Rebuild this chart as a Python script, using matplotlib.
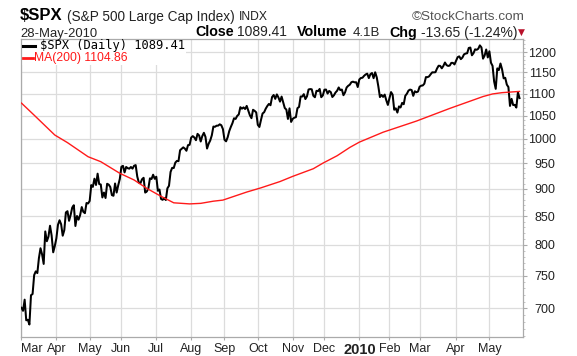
import matplotlib
matplotlib.use("Agg")
import matplotlib.pyplot as plt
import matplotlib.ticker as mticker
from matplotlib.patches import Rectangle
import numpy as np
import pandas as pd

plt.rcParams['font.family'] = ['Liberation Sans', 'DejaVu Sans']

# ---------------- data ----------------
start_date = "2009-03-02"
end_date = "2010-05-28"
market_holidays = ["2009-04-10", "2009-05-25", "2009-07-03", "2009-09-07",
                   "2009-11-26", "2009-12-25", "2010-01-01", "2010-01-18",
                   "2010-02-15", "2010-04-02"]

spx_close = [
    # Mar 2009
    700.82, 696.33, 712.87, 682.55, 683.38, 676.53, 719.60, 721.36, 750.74, 756.55, 753.89,
    778.12, 794.35, 784.04, 768.54, 822.92, 806.12, 813.88, 832.86, 815.94, 787.53, 797.87,
    # Apr 2009
    811.08, 834.38, 842.50, 835.48, 815.55, 825.16, 856.56, 858.73, 841.50, 852.06, 865.30,
    869.60, 832.39, 850.08, 843.55, 851.92, 866.23, 857.51, 855.16, 873.64, 872.81,
    # May 2009
    877.52, 907.24, 903.80, 919.53, 907.39, 929.23, 909.24, 908.35, 883.92, 893.07,
    882.88, 909.71, 908.13, 903.47, 888.33, 887.00, 910.33, 893.06, 906.83, 919.14,
    # Jun 2009
    942.87, 944.74, 931.76, 942.46, 940.09, 939.14, 942.43, 939.15, 944.89, 946.21, 923.72,
    911.97, 910.71, 918.37, 921.23, 893.04, 895.10, 900.94, 920.26, 918.90, 927.23, 919.32,
    # Jul 2009
    923.33, 896.42, 898.72, 881.03, 879.56, 882.68, 879.13, 901.05, 905.84, 932.68, 940.74,
    940.38, 951.13, 954.58, 954.07, 976.29, 979.26, 982.18, 979.62, 975.15, 986.75, 987.48,
    # Aug 2009
    1002.63, 1005.65, 1002.72, 997.08, 1010.48, 1007.10, 994.35, 1005.81, 1012.73, 1004.09,
    979.73, 989.67, 996.46, 1007.37, 1026.13, 1025.57, 1028.00, 1028.12, 1030.98, 1028.93, 1020.62,
    # Sep 2009
    998.04, 994.75, 1003.24, 1016.40, 1025.39, 1033.37, 1044.14, 1042.73, 1049.34, 1052.63,
    1068.76, 1065.49, 1068.30, 1064.66, 1071.66, 1060.87, 1050.78, 1044.38, 1062.98, 1060.61, 1057.08,
    # Oct 2009
    1029.85, 1025.21, 1040.46, 1054.72, 1057.58, 1065.48, 1071.49, 1076.19, 1073.19, 1092.02, 1096.56,
    1087.68, 1097.91, 1091.06, 1081.40, 1092.91, 1079.60, 1066.95, 1063.41, 1042.63, 1066.11, 1036.19,
    # Nov 2009
    1042.88, 1045.41, 1046.50, 1066.63, 1069.30, 1093.08, 1093.01, 1098.51, 1087.24, 1093.48,
    1109.30, 1110.32, 1109.80, 1094.90, 1091.38, 1106.24, 1105.65, 1110.63, 1091.49, 1095.63,
    # Dec 2009
    1108.86, 1109.24, 1099.92, 1105.98, 1103.25, 1091.94, 1095.95, 1102.35, 1106.41, 1114.11, 1107.93,
    1109.18, 1096.08, 1102.47, 1114.05, 1118.02, 1120.59, 1126.48, 1127.78, 1126.20, 1126.42, 1115.10,
    # Jan 2010
    1132.99, 1136.52, 1137.14, 1141.69, 1144.98, 1146.98, 1136.22, 1145.68, 1148.46, 1136.03,
    1150.23, 1138.04, 1116.48, 1091.76, 1096.78, 1092.17, 1097.50, 1084.53, 1073.87,
    # Feb 2010
    1089.19, 1103.32, 1097.28, 1063.11, 1066.19, 1056.74, 1070.52, 1068.13, 1078.47, 1075.51,
    1094.87, 1099.51, 1106.75, 1109.17, 1108.01, 1094.60, 1105.24, 1102.94, 1104.49,
    # Mar 2010
    1115.71, 1118.31, 1118.79, 1122.97, 1138.70, 1138.50, 1140.45, 1145.61, 1150.24, 1149.99, 1150.51,
    1159.46, 1166.21, 1165.83, 1159.90, 1165.81, 1174.17, 1167.72, 1165.73, 1166.59, 1173.22, 1173.27, 1169.43,
    # Apr 2010
    1178.10, 1187.44, 1189.44, 1182.45, 1186.44, 1194.37, 1196.48, 1197.30, 1210.65, 1211.67, 1192.13,
    1197.52, 1207.17, 1205.94, 1208.67, 1217.28, 1212.05, 1183.71, 1191.36, 1206.78, 1186.69,
    # May 2010
    1202.26, 1173.60, 1165.90, 1128.15, 1110.88, 1159.73, 1155.79, 1171.67, 1157.44, 1135.68,
    1136.94, 1120.80, 1115.05, 1071.59, 1087.69, 1073.65, 1074.03, 1067.95, 1103.06, 1089.41,
]

ma_dates = ["2009-03-02", "2009-03-12", "2009-03-31", "2009-04-13", "2009-04-30",
            "2009-05-12", "2009-05-29", "2009-06-11", "2009-06-23", "2009-07-07",
            "2009-07-17", "2009-07-31", "2009-08-11", "2009-08-21", "2009-08-31",
            "2009-09-22", "2009-10-05", "2009-10-21", "2009-11-02", "2009-11-19",
            "2009-11-30", "2009-12-11", "2009-12-23", "2010-01-04", "2010-01-26",
            "2010-02-25", "2010-03-26", "2010-04-27", "2010-05-05", "2010-05-13",
            "2010-05-28"]
ma_values = [1078, 1051, 1008, 992, 963,
             953, 930, 917, 901, 886,
             874, 872, 873, 877, 879,
             894, 902, 914, 924, 939,
             950, 965, 982, 993, 1014,
             1038, 1066, 1093, 1099, 1102,
             1104.86]

month_labels = ["Mar", "Apr", "May", "Jun", "Jul", "Aug", "Sep", "Oct", "Nov", "Dec",
                "2010", "Feb", "Mar", "Apr", "May"]
y_ticks = [700, 750, 800, 850, 900, 950, 1000, 1050, 1100, 1150, 1200]

# ---------------- build trading-day axis ----------------
dates = pd.bdate_range(start_date, end_date, freq="C", holidays=market_holidays)
x_idx = np.arange(len(dates))
pos = pd.Series(x_idx, index=dates)
ma_x = [pos[pd.Timestamp(d)] for d in ma_dates]
months = dates.to_period("M")
first_idx = [int(np.where(months == m)[0][0]) for m in months.unique()]

# ---------------- figure ----------------
W, H = 577, 356
fig = plt.figure(figsize=(W / 100, H / 100), dpi=100)
L, R, T, B = 21, 523, 38.5, 337
ax = fig.add_axes([L / W, (H - B) / H, (R - L) / W, (B - T) / H])

ax.plot(x_idx, spx_close, color="black", lw=1.45, zorder=3, solid_joinstyle="round")
ax.plot(ma_x, ma_values, color="#ff1a1a", lw=1.0, zorder=3)

ax.set_yscale("log")
ax.set_ylim(659, 1235)
ax.set_xlim(-0.3, 316.2)

ax.yaxis.set_major_locator(mticker.FixedLocator(y_ticks))
ax.yaxis.set_major_formatter(mticker.FixedFormatter([str(v) for v in y_ticks]))
minor = [v for v in range(660, 1240, 10) if v not in y_ticks]
ax.yaxis.set_minor_locator(mticker.FixedLocator(minor))
ax.yaxis.set_minor_formatter(mticker.NullFormatter())
ax.tick_params(axis="y", which="both", left=False, labelleft=False, right=True, labelright=True)
ax.tick_params(axis="y", which="major", length=3, width=0.8, color="#aaaaaa",
               labelsize=9, labelcolor="#222222", pad=20.5)
ax.tick_params(axis="y", which="minor", length=1.5, width=0.6, color="#bbbbbb")

ax.set_xticks(first_idx)
ax.set_xticklabels(month_labels)
ax.tick_params(axis="x", which="major", length=2.5, width=0.8, color="#aaaaaa",
               labelsize=9, labelcolor="#222222", pad=1.5)
for lab, txt in zip(ax.get_xticklabels(), month_labels):
    if txt == "2010":
        lab.set_fontweight("bold")
        lab.set_fontsize(10.5)
ax.get_xticklabels()[0].set_horizontalalignment("left")

ax.set_axisbelow(True)
ax.grid(True, which="major", color="#dcdcdc", lw=0.9)
for s in ax.spines.values():
    s.set_color("#aaaaaa")
    s.set_linewidth(0.9)

for tk in ax.yaxis.get_major_ticks():
    tk.label2.set_horizontalalignment("right")

# legend box
ax.add_patch(Rectangle((0, 0.912), (186 - L) / (R - L), 0.1, transform=ax.transAxes,
                       facecolor="white", edgecolor="none", zorder=1.5))

def px(x, y):
    return x / W, 1 - y / H

fig.add_artist(plt.Line2D([23 / W, 35 / W], [1 - 45.7 / H] * 2, color="black", lw=2.2))
fig.text(*px(40, 45.7), r"\$SPX (Daily) 1089.41", family="DejaVu Sans Mono", fontsize=8.7,
         va="center", ha="left", color="black")
fig.add_artist(plt.Line2D([23 / W, 33 / W], [1 - 58.3 / H] * 2, color="#ff1a1a", lw=2.0))
fig.text(*px(34.5, 58.3), "MA(200) 1104.86", fontsize=8.7, va="center", ha="left", color="#ff1a1a")

# header
fig.text(*px(20, 20.5), r"\$SPX", fontsize=12, fontweight="bold", va="baseline")
fig.text(*px(67, 20.5), "(S&P 500 Large Cap Index)", fontsize=9.8, va="baseline", color="#222222")
fig.text(*px(239, 20.5), "INDX", fontsize=8.7, va="baseline", color="#222222")
fig.text(*px(525, 20.5), "©StockCharts.com", fontsize=9.7, va="baseline", ha="right", color="#555555")

fig.text(*px(20, 36.5), "28-May-2010", fontsize=9.4, va="baseline", color="#222222")
fig.text(*px(195.5, 36.5), "Close", fontsize=10.3, fontweight="bold", va="baseline")
fig.text(*px(237.5, 36.5), "1089.41", fontsize=10, va="baseline", color="#222222")
fig.text(*px(297, 36.5), "Volume", fontsize=10.3, fontweight="bold", va="baseline")
fig.text(*px(352.5, 36.5), "4.1B", fontsize=9.5, va="baseline", color="#222222")
fig.text(*px(389, 36.5), "Chg", fontsize=10.3, fontweight="bold", va="baseline")
fig.text(*px(421, 36.5), "-13.65 (-1.24%)", fontsize=10, va="baseline", color="#222222")
fig.text(*px(521.5, 32.5), "▼", family="DejaVu Sans", fontsize=6.5, va="center", ha="center",
         color="#b8102a")

fig.savefig("out.png", dpi=100, facecolor="white")
